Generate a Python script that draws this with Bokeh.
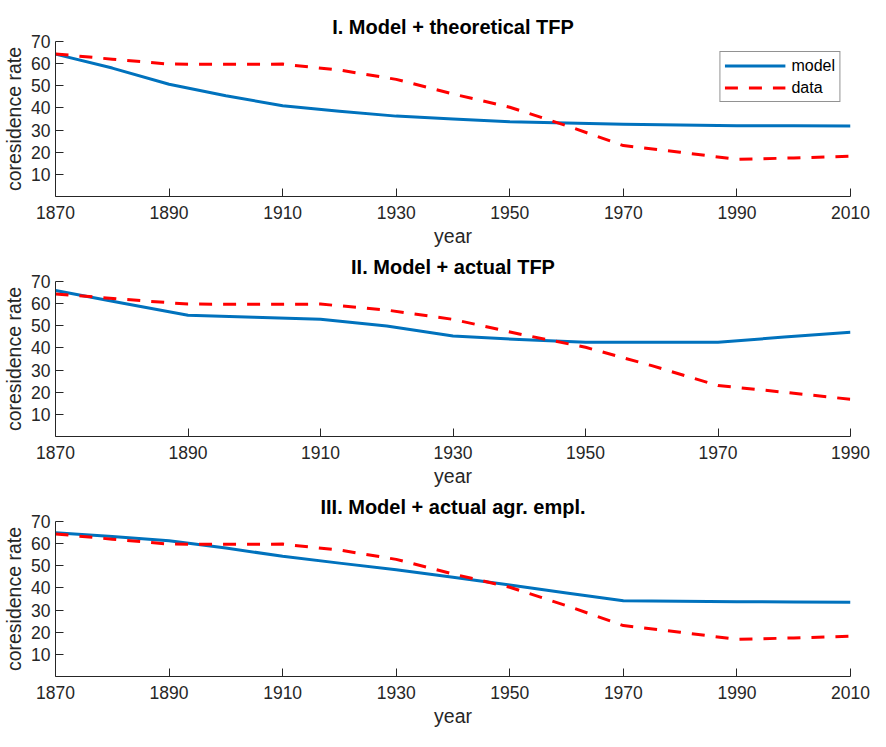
from bokeh.plotting import figure
from bokeh.layouts import column
from bokeh.models import FixedTicker, Legend, LegendItem, Range1d, Spacer
from bokeh.embed import file_html
from bokeh.resources import INLINE

# ---- data ----
years = [1870, 1880, 1890, 1900, 1910, 1920, 1930, 1940, 1950, 1960, 1970, 1980, 1990, 2000, 2010]
years_ii = [1870, 1880, 1890, 1900, 1910, 1920, 1930, 1940, 1950, 1960, 1970, 1980, 1990]

data_rate = [64.4, 62.0, 59.8, 59.7, 59.8, 57.1, 52.9, 46.3, 40.3, 32.0, 23.0, 20.0, 16.8, 17.4, 18.2]
data_rate_ii = [64.4, 62.0, 59.8, 59.7, 59.8, 57.1, 52.9, 46.3, 40.3, 32.0, 23.0, 20.0, 16.8]

model_i = [64.3, 58.0, 50.7, 45.5, 41.0, 38.5, 36.3, 35.0, 33.8, 33.2, 32.6, 32.3, 32.0, 31.9, 31.8]
model_ii = [65.9, 60.3, 54.8, 53.9, 52.9, 49.9, 45.4, 43.8, 42.6, 42.6, 42.6, 44.9, 47.1]
model_iii = [64.9, 63.2, 61.3, 58.0, 54.3, 51.2, 48.2, 44.8, 41.3, 37.7, 34.2, 34.0, 33.8, 33.7, 33.5]

titles = ["I. Model + theoretical TFP", "II. Model + actual TFP", "III. Model + actual agr. empl."]
x_ticks_full = [1870, 1890, 1910, 1930, 1950, 1970, 1990, 2010]
x_ticks_ii = [1870, 1890, 1910, 1930, 1950, 1970, 1990]
y_ticks = [10, 20, 30, 40, 50, 60, 70]

FONT = "Liberation Sans"
AX = "#262626"
BLUE = "#0072BD"
RED = "#FF0000"


def make_panel(title, xs, model, data, xticks, show_legend=False):
    p = figure(width=870, height=240, output_backend="svg", toolbar_location=None,
               x_range=Range1d(xs[0], xs[-1]), y_range=Range1d(0, 70),
               min_border_left=52, min_border_right=20, min_border_top=0, min_border_bottom=0)
    p.outline_line_color = None
    p.xgrid.grid_line_color = None
    p.ygrid.grid_line_color = None
    p.background_fill_color = "white"
    p.border_fill_color = "white"

    p.title.text = title
    p.title.align = "center"
    p.title.text_font = FONT
    p.title.text_font_size = "20px"
    p.title.text_font_style = "bold"
    p.title.text_color = "black"
    p.title.standoff = 8

    for ax in (p.xaxis[0], p.yaxis[0]):
        ax.axis_line_color = AX
        ax.axis_line_width = 1
        ax.major_tick_line_color = AX
        ax.major_tick_in = 8
        ax.major_tick_out = 0
        ax.minor_tick_line_color = None
        ax.major_label_text_font = FONT
        ax.major_label_text_font_size = "17.5px"
        ax.major_label_text_color = AX
        ax.axis_label_text_font = FONT
        ax.axis_label_text_font_size = "19.5px"
        ax.axis_label_text_font_style = "normal"
        ax.axis_label_text_color = AX

    p.xaxis.ticker = FixedTicker(ticks=xticks)
    p.yaxis.ticker = FixedTicker(ticks=y_ticks)
    p.xaxis.axis_label = "year"
    p.yaxis.axis_label = "coresidence rate"
    p.xaxis.major_label_standoff = 9
    p.xaxis.axis_label_standoff = 3
    p.yaxis.major_label_standoff = 5
    p.yaxis.axis_label_standoff = 3

    r1 = p.line(xs, model, line_color=BLUE, line_width=3, line_join="round")
    r2 = p.line(xs, data, line_color=RED, line_width=3, line_dash="13 11", line_join="round")

    if show_legend:
        leg = Legend(items=[LegendItem(label="model", renderers=[r1]),
                            LegendItem(label="data", renderers=[r2])],
                     location="top_right", margin=10, padding=4, spacing=3,
                     glyph_width=61, glyph_height=19, label_height=19, label_standoff=6,
                     label_text_font=FONT, label_text_font_size="16px", label_text_color="black",
                     border_line_color=AX, border_line_width=1, background_fill_color="white",
                     background_fill_alpha=1.0)
        p.add_layout(leg)
    return p


p1 = make_panel(titles[0], years, model_i, data_rate, x_ticks_full, show_legend=True)
p2 = make_panel(titles[1], years_ii, model_ii, data_rate_ii, x_ticks_ii)
p3 = make_panel(titles[2], years, model_iii, data_rate, x_ticks_full)

layout = column(Spacer(width=870, height=9), p1, p2, p3, spacing=0)
open("out.html", "w").write(file_html(layout, INLINE))
